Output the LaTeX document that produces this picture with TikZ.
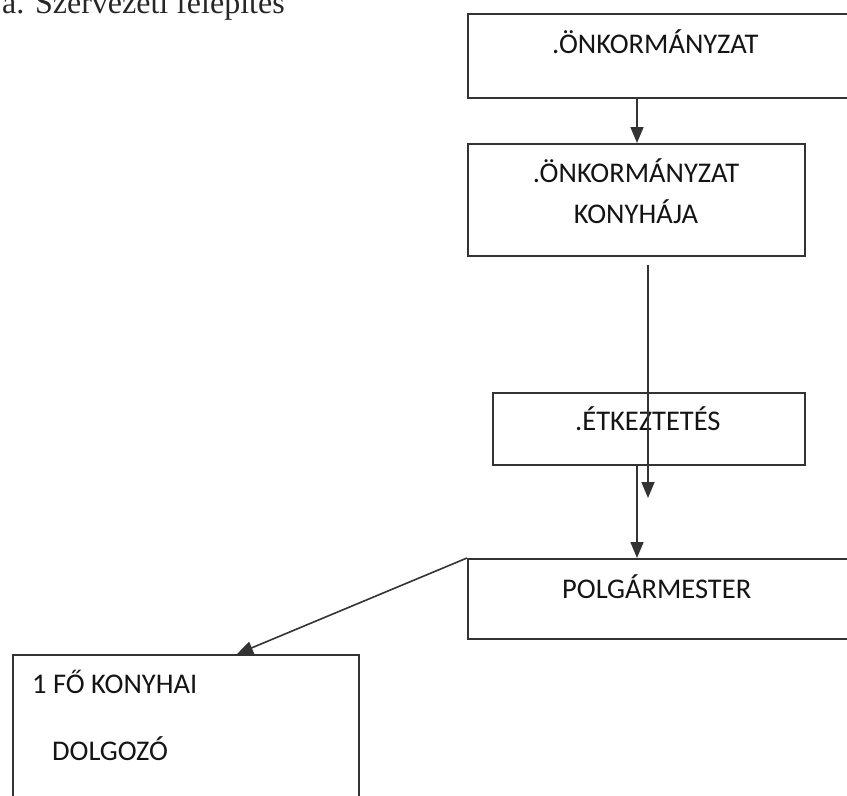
\documentclass[tikz,border=0pt]{standalone}
\usepackage{fontspec}
\setmainfont{Carlito}
\newfontfamily\titlefont{Liberation Serif}
\usetikzlibrary{arrows.meta}

\begin{document}
\begin{tikzpicture}[x=1pt,y=-1pt]%
  \tikzstyle{boxn}=[rectangle,draw=black!80,line width=1.6pt,inner sep=0,anchor=north west]
  \tikzstyle{txt}=[inner sep=0,anchor=base west,text=black!92,font=\fontsize{28.5}{34}\selectfont]
  \tikzstyle{arr}=[draw=black!80,line width=1.6pt,-{Triangle[width=13pt,length=16pt]}]
  \useasboundingbox (0,0) rectangle (847,796);
  \node(title)[anchor=base west,inner sep=0,text=black!85,font=\titlefont\fontsize{32}{38}\selectfont] at (2,13) {a. Szervezeti felépítés};
  % boxes
  \node(onk)[boxn,minimum width=420pt,minimum height=84pt] at (467,13) {};
  \node(konyha)[boxn,minimum width=337pt,minimum height=112pt] at (467,143) {};
  \node(etk)[boxn,minimum width=312pt,minimum height=72pt] at (492,392) {};
  \node(polg)[boxn,minimum width=420pt,minimum height=80pt] at (467,558) {};
  \node(dolg)[boxn,minimum width=346pt,minimum height=200pt] at (12,654) {};
  % texts
  \node(onkt)[txt] at (552,53) {.ÖNKORMÁNYZAT};
  \node(konyhat)[txt,anchor=base] at (636,182) {.ÖNKORMÁNYZAT};
  \node(konyhat2)[txt,anchor=base] at (636,223) {KONYHÁJA};
  \node(etkt)[txt] at (575,430) {.ÉTKEZTETÉS};
  \node(polgt)[txt] at (562,598) {POLGÁRMESTER};
  \node(dolgt)[txt] at (32,693) {1 FŐ KONYHAI};
  \node(dolgt2)[txt] at (52,760) {DOLGOZÓ};
  % connectors
  \coordinate(c1) at (637,0);
  \coordinate(c2) at (237,0);
  \coordinate(mid) at (648,498);
  \draw[arr] (c1 |- onk.south) -- (c1 |- konyha.north);
  \draw[arr,shorten <=8pt] (mid |- konyha.south) -- (mid);
  \draw[arr] (c1 |- etk.south) -- (c1 |- polg.north);
  \draw[arr] (polg.north west) -- (c2 |- dolg.north);
\end{tikzpicture}
\end{document}
